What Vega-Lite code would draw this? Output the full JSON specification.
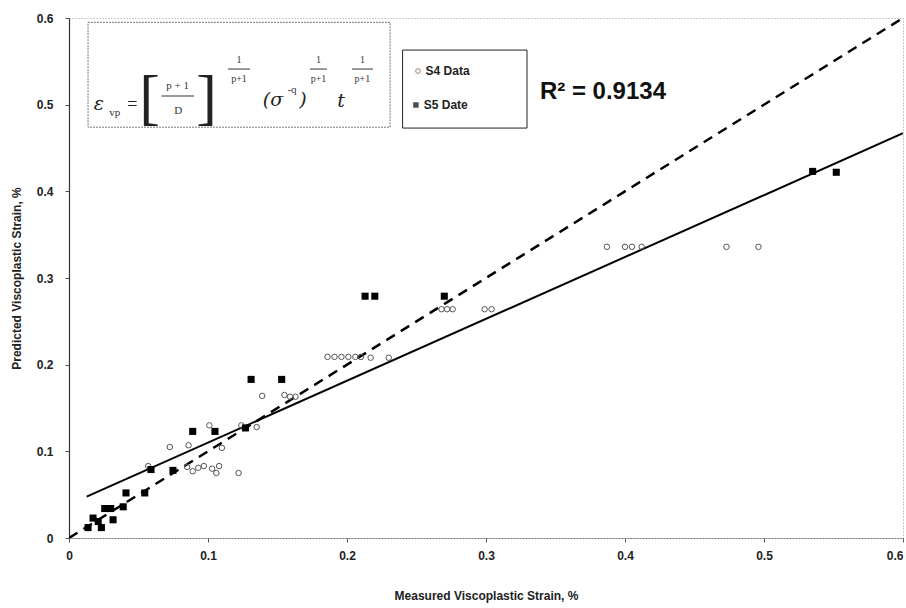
{
  "$schema": "https://vega.github.io/schema/vega-lite/v6.json",
  "width": 834,
  "height": 520,
  "autosize": {"type": "none"},
  "padding": {"left": 69, "top": 18, "right": 3, "bottom": 70},
  "background": "white",
  "config": {
    "view": {"stroke": "#999", "strokeDash": [1, 2], "strokeWidth": 1},
    "font": "Liberation Sans"
  },
  "datasets": {
    "pts": [
      {"x": 0.0137, "y": 0.012, "series": "S5"},
      {"x": 0.0173, "y": 0.023, "series": "S5"},
      {"x": 0.021, "y": 0.019, "series": "S5"},
      {"x": 0.0233, "y": 0.012, "series": "S5"},
      {"x": 0.0257, "y": 0.034, "series": "S5"},
      {"x": 0.030, "y": 0.034, "series": "S5"},
      {"x": 0.0317, "y": 0.021, "series": "S5"},
      {"x": 0.039, "y": 0.036, "series": "S5"},
      {"x": 0.041, "y": 0.052, "series": "S5"},
      {"x": 0.0545, "y": 0.052, "series": "S5"},
      {"x": 0.059, "y": 0.079, "series": "S5"},
      {"x": 0.0748, "y": 0.078, "series": "S5"},
      {"x": 0.089, "y": 0.123, "series": "S5"},
      {"x": 0.105, "y": 0.123, "series": "S5"},
      {"x": 0.127, "y": 0.127, "series": "S5"},
      {"x": 0.131, "y": 0.183, "series": "S5"},
      {"x": 0.153, "y": 0.183, "series": "S5"},
      {"x": 0.213, "y": 0.279, "series": "S5"},
      {"x": 0.220, "y": 0.279, "series": "S5"},
      {"x": 0.270, "y": 0.279, "series": "S5"},
      {"x": 0.535, "y": 0.423, "series": "S5"},
      {"x": 0.552, "y": 0.422, "series": "S5"},
      {"x": 0.057, "y": 0.083, "series": "S4"},
      {"x": 0.0725, "y": 0.105, "series": "S4"},
      {"x": 0.086, "y": 0.107, "series": "S4"},
      {"x": 0.085, "y": 0.082, "series": "S4"},
      {"x": 0.089, "y": 0.077, "series": "S4"},
      {"x": 0.093, "y": 0.081, "series": "S4"},
      {"x": 0.097, "y": 0.083, "series": "S4"},
      {"x": 0.101, "y": 0.130, "series": "S4"},
      {"x": 0.103, "y": 0.080, "series": "S4"},
      {"x": 0.106, "y": 0.075, "series": "S4"},
      {"x": 0.108, "y": 0.083, "series": "S4"},
      {"x": 0.110, "y": 0.104, "series": "S4"},
      {"x": 0.122, "y": 0.075, "series": "S4"},
      {"x": 0.124, "y": 0.130, "series": "S4"},
      {"x": 0.135, "y": 0.128, "series": "S4"},
      {"x": 0.139, "y": 0.164, "series": "S4"},
      {"x": 0.155, "y": 0.165, "series": "S4"},
      {"x": 0.159, "y": 0.163, "series": "S4"},
      {"x": 0.163, "y": 0.163, "series": "S4"},
      {"x": 0.186, "y": 0.209, "series": "S4"},
      {"x": 0.191, "y": 0.209, "series": "S4"},
      {"x": 0.196, "y": 0.209, "series": "S4"},
      {"x": 0.201, "y": 0.209, "series": "S4"},
      {"x": 0.206, "y": 0.209, "series": "S4"},
      {"x": 0.210, "y": 0.209, "series": "S4"},
      {"x": 0.217, "y": 0.208, "series": "S4"},
      {"x": 0.230, "y": 0.208, "series": "S4"},
      {"x": 0.268, "y": 0.264, "series": "S4"},
      {"x": 0.272, "y": 0.264, "series": "S4"},
      {"x": 0.276, "y": 0.264, "series": "S4"},
      {"x": 0.299, "y": 0.264, "series": "S4"},
      {"x": 0.304, "y": 0.264, "series": "S4"},
      {"x": 0.387, "y": 0.336, "series": "S4"},
      {"x": 0.400, "y": 0.336, "series": "S4"},
      {"x": 0.405, "y": 0.336, "series": "S4"},
      {"x": 0.412, "y": 0.336, "series": "S4"},
      {"x": 0.473, "y": 0.336, "series": "S4"},
      {"x": 0.496, "y": 0.336, "series": "S4"}
    ],
    "lines": [
      {"x": 0, "y": 0, "line": "equality"},
      {"x": 0.6, "y": 0.6, "line": "equality"},
      {"x": 0.0127, "y": 0.0477, "line": "fit"},
      {"x": 0.6, "y": 0.467, "line": "fit"}
    ],
    "boxes": [
      {"x": 0.0137, "x2": 0.231, "y": 0.474, "y2": 0.595, "box": "equation"},
      {"x": 0.240, "x2": 0.3295, "y": 0.473, "y2": 0.563, "box": "legend"}
    ],
    "bars": [
      {"x": 0.0665, "x2": 0.0900, "y": 0.510},
      {"x": 0.1144, "x2": 0.1302, "y": 0.5411},
      {"x": 0.1734, "x2": 0.1856, "y": 0.5411},
      {"x": 0.2036, "x2": 0.2187, "y": 0.5411}
    ],
    "eqBig": [
      {"x": 0.0215, "y": 0.5008, "label": "ε"},
      {"x": 0.1468, "y": 0.5054, "label": "(σ"},
      {"x": 0.1683, "y": 0.5054, "label": ")"},
      {"x": 0.1957, "y": 0.504, "label": "t"}
    ],
    "eqEq": [
      {"x": 0.0455, "y": 0.500, "label": "="}
    ],
    "eqBracket": [
      {"x": 0.0580, "y": 0.506, "label": "["},
      {"x": 0.0990, "y": 0.506, "label": "]"}
    ],
    "eqMid": [
      {"x": 0.0330, "y": 0.490, "label": "vp"},
      {"x": 0.0782, "y": 0.5215, "label": "p + 1"},
      {"x": 0.0785, "y": 0.4927, "label": "D"},
      {"x": 0.1604, "y": 0.517, "label": "-q"}
    ],
    "eqSmall": [
      {"x": 0.1223, "y": 0.5515, "label": "1"},
      {"x": 0.1223, "y": 0.5296, "label": "p+1"},
      {"x": 0.1795, "y": 0.5515, "label": "1"},
      {"x": 0.1795, "y": 0.5296, "label": "p+1"},
      {"x": 0.2111, "y": 0.5515, "label": "1"},
      {"x": 0.2111, "y": 0.5296, "label": "p+1"}
    ],
    "legendSym": [
      {"x": 0.2511, "y": 0.5388, "series": "S4"},
      {"x": 0.2496, "y": 0.4996, "series": "S5"}
    ],
    "legendText": [
      {"x": 0.2565, "y": 0.5388, "label": "S4 Data"},
      {"x": 0.2552, "y": 0.4996, "label": "S5 Date"}
    ],
    "r2": [
      {"x": 0.3388, "y": 0.5146, "label": "R² = 0.9134"}
    ]
  },
  "encoding": {
    "x": {
      "field": "x",
      "type": "quantitative",
      "scale": {"domain": [0, 0.6], "nice": false},
      "axis": {
        "title": "Measured Viscoplastic Strain, %",
        "values": [0, 0.1, 0.2, 0.3, 0.4, 0.5, 0.6],
        "format": "~g",
        "grid": false,
        "domainColor": "#777",
        "domainDash": [2, 1],
        "domainWidth": 1,
        "tickColor": "#555",
        "tickSize": 4,
        "labelFont": "Liberation Sans",
        "labelFontWeight": "bold",
        "labelFontSize": 12,
        "labelColor": "#222",
        "labelPadding": 8,
        "labelFlush": false,
        "labelAlign": {"condition": {"test": "datum.value >= 0.59", "value": "right"}, "value": "center"},
        "titleFont": "Liberation Sans",
        "titleFontWeight": "bold",
        "titleFontSize": 12,
        "titleColor": "#222",
        "titlePadding": 29
      }
    },
    "y": {
      "field": "y",
      "type": "quantitative",
      "scale": {"domain": [0, 0.6], "nice": false},
      "axis": {
        "title": "Predicted Viscoplastic Strain, %",
        "values": [0, 0.1, 0.2, 0.3, 0.4, 0.5, 0.6],
        "format": "~g",
        "grid": false,
        "domainColor": "#333",
        "domainWidth": 1.2,
        "tickColor": "#555",
        "tickSize": 4,
        "labelFont": "Liberation Sans",
        "labelFontWeight": "bold",
        "labelFontSize": 12,
        "labelColor": "#222",
        "labelPadding": 12,
        "labelFlush": false,
        "titleFont": "Liberation Sans",
        "titleFontWeight": "bold",
        "titleFontSize": 12,
        "titleColor": "#222",
        "titlePadding": 13
      }
    }
  },
  "layer": [
    {
      "data": {"name": "boxes"},
      "transform": [{"filter": "datum.box == 'equation'"}],
      "mark": {"type": "rect", "fill": "white", "stroke": "#777", "strokeWidth": 1, "strokeDash": [2, 1]},
      "encoding": {"x2": {"field": "x2"}, "y2": {"field": "y2"}}
    },
    {
      "data": {"name": "boxes"},
      "transform": [{"filter": "datum.box == 'legend'"}],
      "mark": {"type": "rect", "fill": "white", "stroke": "#222", "strokeWidth": 1},
      "encoding": {"x2": {"field": "x2"}, "y2": {"field": "y2"}}
    },
    {
      "data": {"name": "lines"},
      "transform": [{"filter": "datum.line == 'equality'"}],
      "mark": {"type": "line", "color": "black", "strokeWidth": 2.5, "strokeDash": [10, 7], "clip": true},
      "encoding": {}
    },
    {
      "data": {"name": "lines"},
      "transform": [{"filter": "datum.line == 'fit'"}],
      "mark": {"type": "line", "color": "black", "strokeWidth": 2, "clip": true},
      "encoding": {}
    },
    {
      "data": {"name": "pts"},
      "transform": [{"filter": "datum.series == 'S4'"}],
      "mark": {"type": "point", "shape": "circle", "filled": false, "stroke": "#555", "strokeWidth": 1, "size": 30, "opacity": 1},
      "encoding": {}
    },
    {
      "data": {"name": "pts"},
      "transform": [{"filter": "datum.series == 'S5'"}],
      "mark": {"type": "square", "color": "black", "size": 50, "opacity": 1},
      "encoding": {}
    },
    {
      "data": {"name": "bars"},
      "mark": {"type": "rule", "color": "#333", "strokeWidth": 1},
      "encoding": {"x2": {"field": "x2"}}
    },
    {
      "data": {"name": "eqBig"},
      "mark": {"type": "text", "font": "DejaVu Serif", "fontStyle": "italic", "fontSize": 19, "color": "#222", "align": "center", "baseline": "middle"},
      "encoding": {"text": {"field": "label"}}
    },
    {
      "data": {"name": "eqEq"},
      "mark": {"type": "text", "font": "Liberation Serif", "fontSize": 18, "color": "#222", "align": "center", "baseline": "middle"},
      "encoding": {"text": {"field": "label"}}
    },
    {
      "data": {"name": "eqBracket"},
      "mark": {"type": "text", "font": "Liberation Serif", "fontSize": 62, "color": "#222", "align": "center", "baseline": "middle"},
      "encoding": {"text": {"field": "label"}}
    },
    {
      "data": {"name": "eqMid"},
      "mark": {"type": "text", "font": "Liberation Serif", "fontSize": 11, "color": "#333", "align": "center", "baseline": "middle"},
      "encoding": {"text": {"field": "label"}}
    },
    {
      "data": {"name": "eqSmall"},
      "mark": {"type": "text", "font": "Liberation Serif", "fontSize": 10, "color": "#333", "align": "center", "baseline": "middle"},
      "encoding": {"text": {"field": "label"}}
    },
    {
      "data": {"name": "legendSym"},
      "transform": [{"filter": "datum.series == 'S4'"}],
      "mark": {"type": "point", "shape": "circle", "filled": false, "stroke": "#555", "strokeWidth": 1, "size": 22},
      "encoding": {}
    },
    {
      "data": {"name": "legendSym"},
      "transform": [{"filter": "datum.series == 'S5'"}],
      "mark": {"type": "square", "color": "black", "size": 30},
      "encoding": {}
    },
    {
      "data": {"name": "legendText"},
      "mark": {"type": "text", "font": "Liberation Sans", "fontWeight": "bold", "fontSize": 12, "color": "#222", "align": "left", "baseline": "middle"},
      "encoding": {"text": {"field": "label"}}
    },
    {
      "data": {"name": "r2"},
      "mark": {"type": "text", "font": "Liberation Sans", "fontWeight": "bold", "fontSize": 24, "color": "#111", "align": "left", "baseline": "middle"},
      "encoding": {"text": {"field": "label"}}
    }
  ]
}
